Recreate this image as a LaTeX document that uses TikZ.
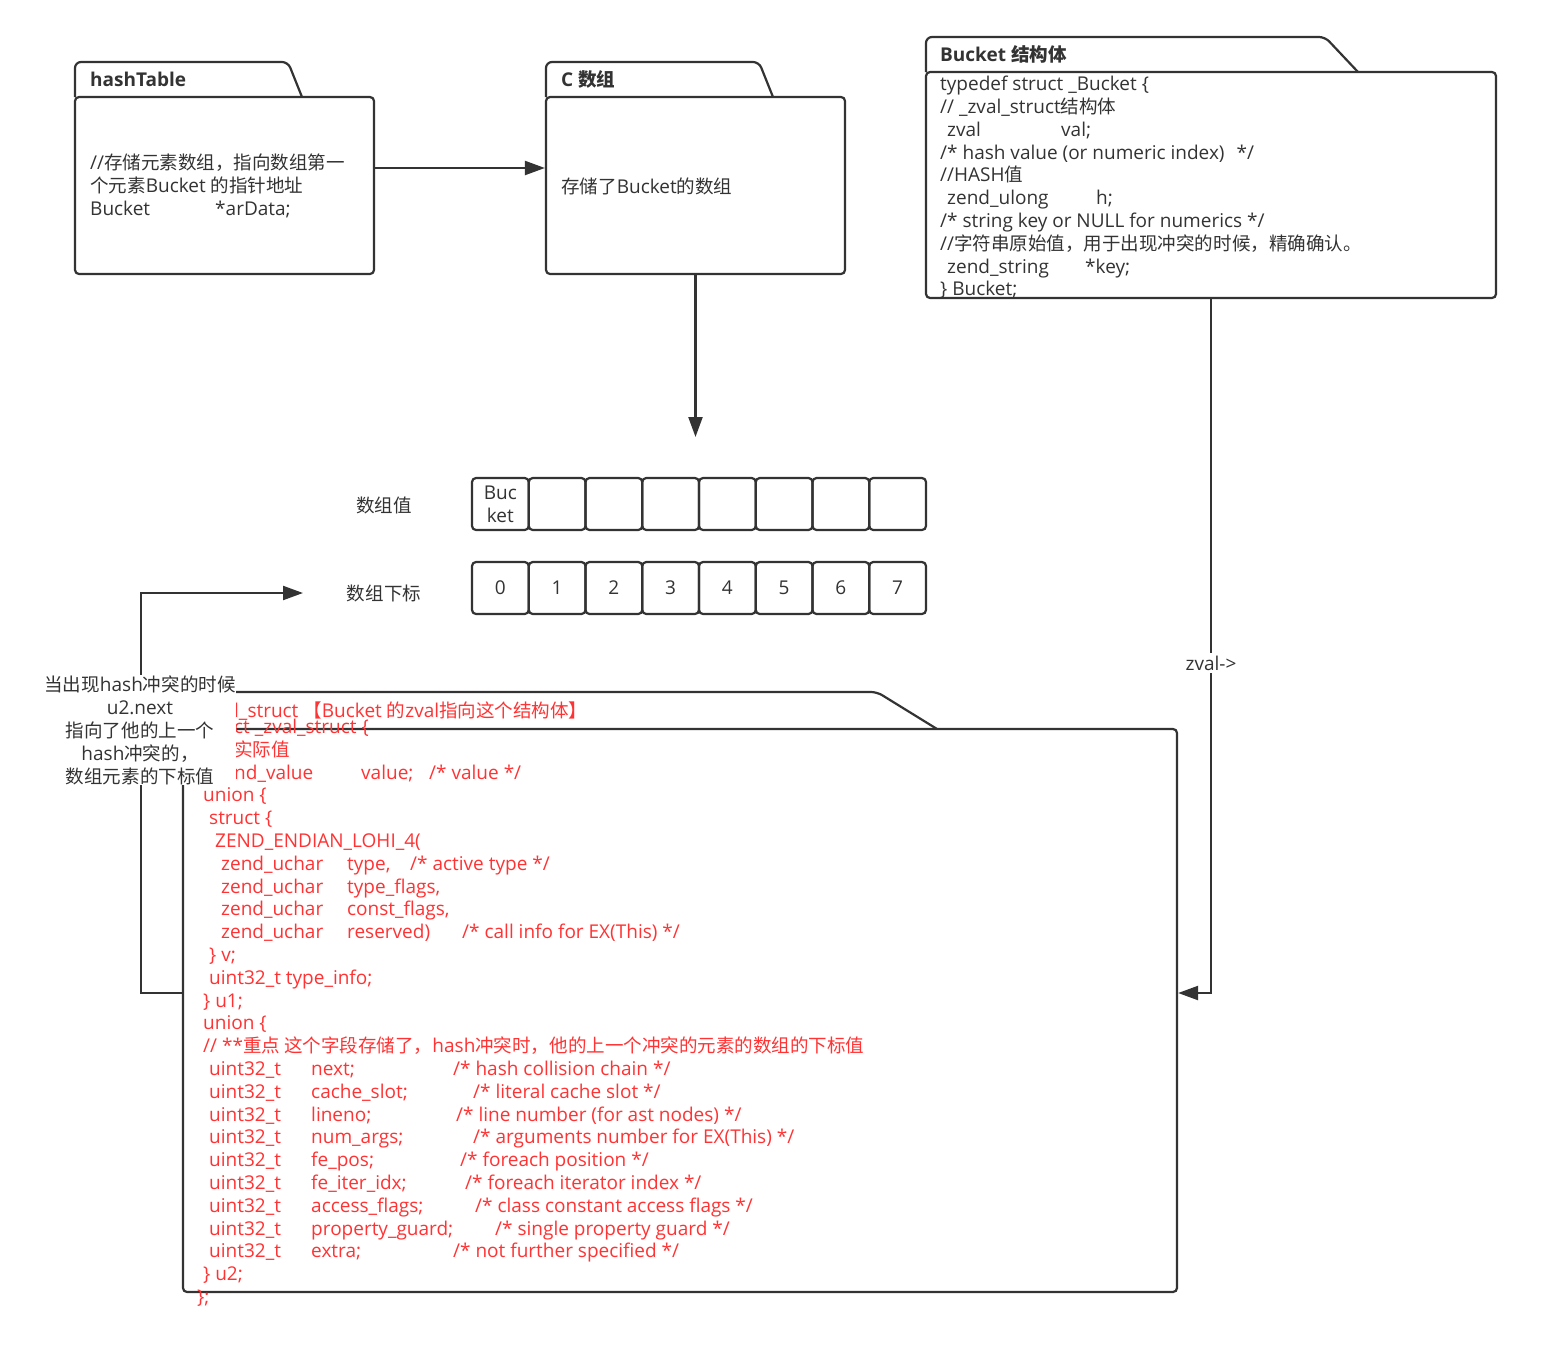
\documentclass[tikz,border=0pt]{standalone}
\usepackage{fontspec}
\setmainfont{Open Sans}
\newfontfamily\cjk[Scale=0.975]{Noto Sans CJK SC}
\usetikzlibrary{arrows.meta}
\definecolor{ink}{RGB}{51,51,51}
\definecolor{codered}{RGB}{255,51,51}
\newcommand\zh[1]{{\cjk #1}}
\begin{document}
\begin{tikzpicture}[x=1pt,y=-1pt,
  box/.style={draw=ink, line width=2.2pt, rounded corners=4pt},
  tabshape/.style={draw=ink, line width=2.2pt, rounded corners=6pt},
  body/.style={box, inner sep=0pt},
  tl/.style={anchor=base west, inner sep=0pt, yshift=-6.7pt, font=\fontsize{19}{23}\selectfont, text=ink},
  rl/.style={tl, text=codered},
  ttl/.style={tl, font=\fontsize{19}{23}\selectfont\bfseries},
  ctext/.style={inner sep=0pt, font=\fontsize{19}{23}\selectfont, text=ink},
  cell/.style={draw=ink, line width=2.2pt, rounded corners=4pt, minimum width=56.75pt, minimum height=52pt, inner sep=0pt, font=\fontsize{19}{23}\selectfont, text=ink},
  conn/.style={draw=ink, line width=2.2pt, -{Triangle[length=20pt,width=14pt]}}
]
\useasboundingbox (0,0) rectangle (1550,1344);
\fill[white] (0,0) rectangle (1550,1344);

% ---------- hashTable ----------
\draw[tabshape] (75,97) -- (75,62) -- (288,62) -- (302,97);
\node[body, minimum width=299pt, minimum height=177pt] (ht) at (224.5,185.5) {};
\node[ttl] (httitle) at (90,80) {hashTable};
\node[tl] (ht1) at (90,163) {//\zh{存储元素数组，指向数组第一}};
\node[tl] (ht2) at (90,186) {\zh{个元素}Bucket \zh{的指针地址}};
\node[tl] (ht3) at (90,209) {\makebox[125pt][l]{Bucket}*arData;};

% ---------- C array ----------
\draw[tabshape] (546,97) -- (546,62) -- (759,62) -- (773,97);
\node[body, minimum width=299pt, minimum height=177pt] (ca) at (695.5,185.5) {};
\node[ttl] (catitle) at (561,80) {C \zh{\bfseries 数组}};
\node[tl] (ca1) at (561,187) {\zh{存储了}Bucket\zh{的数组}};

% ---------- Bucket struct ----------
\draw[tabshape] (926,72) -- (926,37) -- (1325,37) -- (1358,72);
\node[body, minimum width=570pt, minimum height=226pt] (bk) at (1211,185) {};
\node[ttl] (bktitle) at (940,55) {Bucket \zh{\bfseries 结构体}};
\node[tl] (bk1) at (940,84) {typedef struct \_Bucket \{};
\node[tl] (bk2) at (940,107) {// \_zval\_struct\zh{结构体}};
\node[tl] (bk3) at (947,130) {\makebox[114pt][l]{zval}val;};
\node[tl] (bk4) at (940,153) {/* hash value (or numeric index)\hspace{12pt}*/};
\node[tl] (bk5) at (940,175) {//HASH\zh{值}};
\node[tl] (bk6) at (947,198) {\makebox[149pt][l]{zend\_ulong}h;};
\node[tl] (bk7) at (940,221) {/* string key or NULL for numerics */};
\node[tl] (bk8) at (940,244) {//\zh{字符串原始值，用于出现冲突的时候，精确确认。}};
\node[tl] (bk9) at (947,267) {\makebox[138pt][l]{zend\_string}*key;};
\node[tl] (bk10) at (940,289) {\} Bucket;};

% ---------- array ----------
\node[ctext] (lblval) at (384,505) {\zh{数组值}};
\node[ctext] (lblidx) at (384,593) {\zh{数组下标}};
\foreach \i in {0,...,7} {
  \node[cell] (v\i) at ({472+56.75*(\i+0.5)},504) {};
  \node[cell] (i\i) at ({472+56.75*(\i+0.5)},588) {\i};
}
\node[ctext, align=center] (v0t) at (v0) {Buc\\ket};

% ---------- zval struct ----------
\draw[tabshape] (183,729) -- (183,692) -- (877,692) -- (937,729);
\node[body, minimum width=994pt, minimum height=563pt] (zv) at (680,1010.5) {};

% ---------- connectors ----------
\coordinate (y168) at (0,168);
\coordinate (y993) at (0,993);
\coordinate (arrin) at (695.5,437);
\coordinate (corner) at (141,593);
\coordinate (idxin) at (303,593);
\draw[conn] (ht.east |- y168) -- (ca.west |- y168);
\draw[conn] (ca.south) -- (arrin);
\draw[conn] (bk.south) |- (zv.east |- y993);
\draw[conn] (zv.west |- y993) -| (corner) -- (idxin);
\node[ctext, fill=white, inner sep=3pt] (zlab) at (1211,663) {zval->};

% ---------- red code text ----------
\node[rl] (z0) at (234,711) {\llap{//\_zva}l\_struct \zh{【}Bucket \zh{的}zval\zh{指向这个结构体】}};
\node[rl] (z1) at (234,727) {\llap{stru}ct \_zval\_struct \{};
\node[rl] (z2) at (234,750) {\llap{//}\zh{实际值}};
\node[rl] (z3) at (234,773) {\llap{ze}\makebox[127pt][l]{nd\_value}\makebox[68pt][l]{value;}/* value */};
\node[rl] (z4) at (203,795) {union \{};
\node[rl] (z5) at (209,818) {struct \{};
\node[rl] (z6) at (215,841) {ZEND\_ENDIAN\_LOHI\_4(};
\node[rl] (z7) at (221,864) {\makebox[126pt][l]{zend\_uchar}\makebox[63pt][l]{type,}/* active type */};
\node[rl] (z8) at (221,887) {\makebox[126pt][l]{zend\_uchar}type\_flags,};
\node[rl] (z9) at (221,909) {\makebox[126pt][l]{zend\_uchar}const\_flags,};
\node[rl] (z10) at (221,932) {\makebox[126pt][l]{zend\_uchar}\makebox[115pt][l]{reserved)}/* call info for EX(This) */};
\node[rl] (z11) at (209,955) {\} v;};
\node[rl] (z12) at (209,978) {uint32\_t type\_info;};
\node[rl] (z13) at (203,1001) {\} u1;};
\node[rl] (z14) at (203,1023) {union \{};
\node[rl] (z15) at (203,1046) {// **\zh{重点 这个字段存储了，}hash\zh{冲突时，他的上一个冲突的元素的数组的下标值}};
\node[rl] (z16) at (209,1069) {\makebox[102pt][l]{uint32\_t}\makebox[142pt][l]{next;}/* hash collision chain */};
\node[rl] (z17) at (209,1092) {\makebox[102pt][l]{uint32\_t}\makebox[162pt][l]{cache\_slot;}/* literal cache slot */};
\node[rl] (z18) at (209,1115) {\makebox[102pt][l]{uint32\_t}\makebox[145pt][l]{lineno;}/* line number (for ast nodes) */};
\node[rl] (z19) at (209,1137) {\makebox[102pt][l]{uint32\_t}\makebox[162pt][l]{num\_args;}/* arguments number for EX(This) */};
\node[rl] (z20) at (209,1160) {\makebox[102pt][l]{uint32\_t}\makebox[149pt][l]{fe\_pos;}/* foreach position */};
\node[rl] (z21) at (209,1183) {\makebox[102pt][l]{uint32\_t}\makebox[154pt][l]{fe\_iter\_idx;}/* foreach iterator index */};
\node[rl] (z22) at (209,1206) {\makebox[102pt][l]{uint32\_t}\makebox[164pt][l]{access\_flags;}/* class constant access flags */};
\node[rl] (z23) at (209,1229) {\makebox[102pt][l]{uint32\_t}\makebox[184pt][l]{property\_guard;}/* single property guard */};
\node[rl] (z24) at (209,1251) {\makebox[102pt][l]{uint32\_t}\makebox[142pt][l]{extra;}/* not further specified */};
\node[rl] (z25) at (203,1274) {\} u2;};
\node[rl] (z26) at (197,1297) {\};};

% ---------- collision note ----------
\node[ctext, fill=white, align=center, minimum width=190pt, inner xsep=0pt, inner ysep=0pt] (note) at (140,730)
  {\zh{当出现}hash\zh{冲突的时候}\\u2.next\\\zh{指向了他的上一个}\\hash\zh{冲突的，}\\\zh{数组元素的下标值}};
\end{tikzpicture}
\end{document}
